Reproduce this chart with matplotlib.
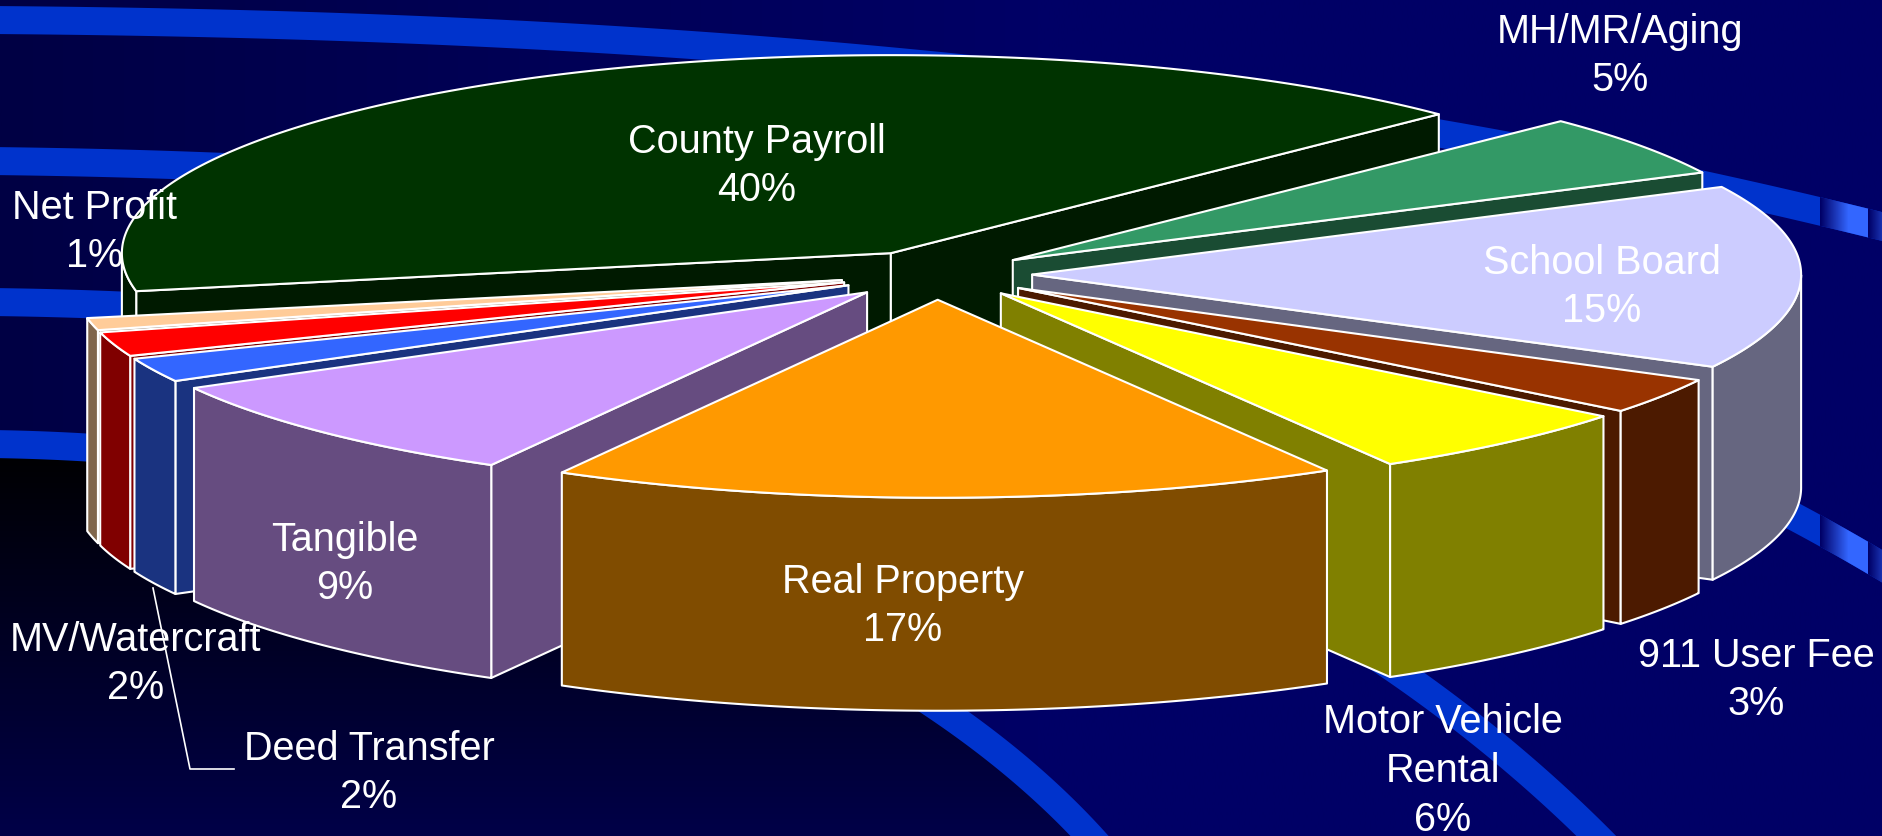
import numpy as np
import matplotlib
matplotlib.use('Agg')
import matplotlib.pyplot as plt
from matplotlib.patches import Polygon

plt.rcParams['font.family'] = ['Liberation Sans', 'DejaVu Sans']

# going clockwise from the top right
names = ['MH/MR/Aging', 'School Board', '911 User Fee', 'Motor Vehicle\nRental', 'Real Property',
         'Tangible', 'Deed Transfer', 'MV/Watercraft', 'Net Profit', 'County Payroll']
values = [5, 15, 3, 6, 17, 9, 2, 2, 1, 40]
top_colors = ['#339966', '#CCCCFF', '#993300', '#FFFF00', '#FF9900',
              '#CC99FF', '#3366FF', '#FF0000', '#FFCC99', '#003300']
wall_colors = ['#1A4C33', '#666680', '#4C1A00', '#808000', '#804C00',
               '#664C80', '#1A3380', '#800000', '#80664C', '#001A00']
label_x = [1620, 1602, 1756, 1443, 903, 345, 369, 136, 95, 757]
label_y = [56, 287, 680, 771, 606, 564, 773, 664, 232, 166]

W, H = 1883, 836
cx, cy = 936, 275
rx, ry = 769, 198
depth = 213
explode = 0.125
start_angle = 46
# the 3d view squeezes the angles a little
warp = 1.5
turn = 0.4


def bezier(p0, p1, p2, p3, n=300):
    t = np.linspace(0, 1, n)[:, None]
    p0, p1, p2, p3 = [np.array(p, float) for p in (p0, p1, p2, p3)]
    return (1 - t)**3 * p0 + 3 * (1 - t)**2 * t * p1 + 3 * (1 - t) * t**2 * p2 + t**3 * p3


def band_polygon(curve, width=28):
    d = np.gradient(curve, axis=0)
    d = d / np.linalg.norm(d, axis=1)[:, None]
    normal = np.column_stack([-d[:, 1], d[:, 0]])
    return np.vstack([curve + normal * width / 2, (curve - normal * width / 2)[::-1]])


fig = plt.figure(figsize=(W / 100, H / 100), dpi=100)
ax = fig.add_axes([0, 0, 1, 1])

# background
xs = np.clip(np.linspace(0, 1, 400) / 0.55, 0, 1)
bg = np.zeros((1, 400, 3))
bg[..., 2] = (68 + 34 * xs) / 255
ax.imshow(bg, extent=(0, W, H, 0), aspect='auto', zorder=0, interpolation='bilinear')

curves = [
    bezier((-10, 20), (700, 25), (1300, 80), (1900, 231)),
    bezier((-10, 161), (800, 170), (1430, 290), (1900, 577)),
    bezier((-10, 302), (700, 310), (1265, 490), (1620, 860)),
    bezier((-10, 444), (450, 450), (905, 610), (1115, 865)),
]

inner = np.zeros((300, 1, 3))
inner[..., 2] = np.linspace(0, 72, 300)[:, None] / 255
im = ax.imshow(inner, extent=(0, W, H, 444), aspect='auto', zorder=0.5, interpolation='bilinear')
inner_edge = np.vstack([curves[3], [[-10, 880]]])
im.set_clip_path(Polygon(inner_edge, closed=True, transform=ax.transData))

tail = np.zeros((1, 63, 3))
for i in range(63):
    f = min(i / 28, 1) if i < 48 else min((i - 48) / 28, 1)
    tail[0, i] = np.array([0, 0, 102]) / 255 * (1 - f) + np.array([51, 102, 255]) / 255 * f
for curve in curves:
    poly = band_polygon(curve)
    ax.add_patch(Polygon(poly, closed=True, fc='#0033CC', ec='none', zorder=1))
for curve in curves[:2]:
    poly = band_polygon(curve)
    im = ax.imshow(tail, extent=(1820, W, H, 0), aspect='auto', zorder=1.2, interpolation='nearest')
    im.set_clip_path(Polygon(poly, closed=True, transform=ax.transData))

# pie slices, back ones first
fracs = np.array(values) / sum(values) * 360
ends = start_angle - np.cumsum(fracs)
starts = ends + fracs
mids = (starts + ends) / 2
order = np.argsort(-np.sin(np.radians(mids)))

for z, i in enumerate(order):
    z = 2 + z
    mid = np.radians(mids[i])
    ax0 = cx + rx * explode * np.cos(mid)
    ay0 = cy - ry * explode * np.sin(mid)
    t = np.radians(np.linspace(starts[i], ends[i], 240))
    t = t - np.radians(warp) * np.cos(t) - np.radians(turn)
    ex = ax0 + rx * np.cos(t)
    ey = ay0 - ry * np.sin(t)
    style = dict(ec='white', lw=1.5, joinstyle='round')

    # side faces that look to the front
    a0, a1 = t[0], t[-1]
    if np.sin(a0 + np.pi / 2) < 0:
        ax.add_patch(Polygon([(ax0, ay0), (ex[0], ey[0]), (ex[0], ey[0] + depth), (ax0, ay0 + depth)],
                             fc=wall_colors[i], zorder=z, **style))
    if np.sin(a1 - np.pi / 2) < 0:
        ax.add_patch(Polygon([(ax0, ay0), (ex[-1], ey[-1]), (ex[-1], ey[-1] + depth), (ax0, ay0 + depth)],
                             fc=wall_colors[i], zorder=z + 0.1, **style))

    # outer wall
    front = np.sin(t) <= 0
    if front.sum() > 1:
        pts = np.column_stack([ex[front], ey[front]])
        low = pts[::-1] + [0, depth]
        ax.add_patch(Polygon(np.vstack([pts, low]), fc=wall_colors[i], zorder=z + 0.2, **style))

    # top
    ax.add_patch(Polygon(np.vstack([[ax0, ay0], np.column_stack([ex, ey])]),
                         fc=top_colors[i], zorder=z + 0.3, **style))

# labels
for i in range(len(names)):
    ax.text(label_x[i], label_y[i], '%s\n%d%%' % (names[i], values[i]), color='white', fontsize=28.5,
            ha='center', va='center', linespacing=1.36, zorder=50)

# leader line for Deed Transfer
ax.plot([153, 190, 234], [588, 769, 769], color='white', lw=1.2, zorder=49)

ax.set_xlim(0, W)
ax.set_ylim(H, 0)
ax.axis('off')
fig.savefig('out.png', dpi=100)
